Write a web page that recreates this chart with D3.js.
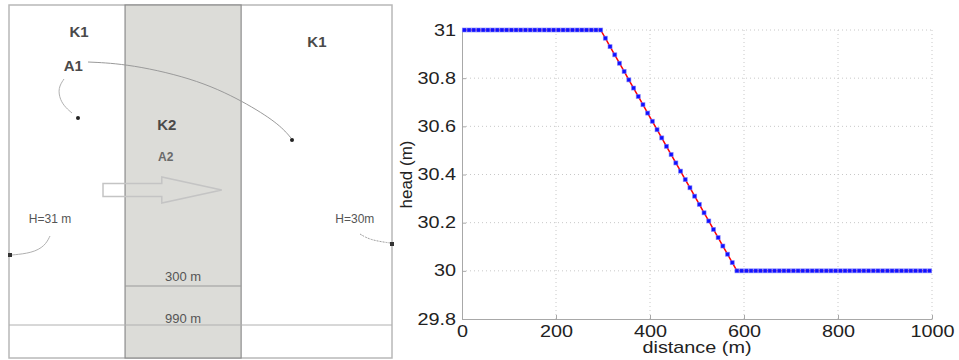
<!DOCTYPE html>
<html><head><meta charset="utf-8">
<script src="https://cdn.jsdelivr.net/npm/d3@7"></script>
<style>html,body{margin:0;padding:0;background:#fff;}svg{display:block;}</style>
</head><body>
<script>
// ---------- data ----------
const distance = [5,15,25,35,45,55,65,75,85,95,105,115,125,135,145,155,165,175,185,195,
205,215,225,235,245,255,265,275,285,295,305,315,325,335,345,355,365,375,385,395,
405,415,425,435,445,455,465,475,485,495,505,515,525,535,545,555,565,575,585,595,
605,615,625,635,645,655,665,675,685,695,705,715,725,735,745,755,765,775,785,795,
805,815,825,835,845,855,865,875,885,895,905,915,925,935,945,955,965,975,985,995];
const head = [31,31,31,31,31,31,31,31,31,31,31,31,31,31,31,31,31,31,31,31,
31,31,31,31,31,31,31,31,31,31,30.966,30.931,30.897,30.862,30.828,30.793,30.759,30.724,30.690,30.655,
30.621,30.586,30.552,30.517,30.483,30.448,30.414,30.379,30.345,30.310,30.276,30.241,30.207,30.172,30.138,30.103,30.069,30.034,30,30,
30,30,30,30,30,30,30,30,30,30,30,30,30,30,30,30,30,30,30,30,
30,30,30,30,30,30,30,30,30,30,30,30,30,30,30,30,30,30,30,30];
const xTicks = [0,200,400,600,800,1000];
const yTicks = [29.8,30,30.2,30.4,30.6,30.8,31];
const yTickLabels = ["29.8","30","30.2","30.4","30.6","30.8","31"];
const xTitle = "distance (m)";
const yTitle = "head (m)";
// schematic
const zoneBounds = [0,300,600,990];
const zoneLabels = [{t:"K1",m:181,y:32,s:15},{t:"A1",m:166,y:66,s:15},{t:"K1",m:796,y:42,s:15},
  {t:"K2",m:408,y:125,s:15},{t:"A2",m:405,y:157,s:12}];
const bcLabels = [{t:"H=31 m",m:106,y:219},{t:"H=30m",m:894,y:219}];
const dimLabels = [{t:"300 m",y:276},{t:"990 m",y:318}];

const W=959,H=360;
const svg=d3.select("body").append("svg").attr("width",W).attr("height",H);
svg.append("rect").attr("width",W).attr("height",H).attr("fill","#fff");

// ---------- left schematic ----------
const sx=d3.scaleLinear().domain([0,990]).range([9,392]);
const top0=5,bot0=358;
const L=svg.append("g");
L.append("rect").attr("x",sx(0)).attr("y",top0).attr("width",sx(990)-sx(0)).attr("height",bot0-top0)
 .attr("fill","#fff").attr("stroke","#b8b8b8").attr("stroke-width",1.5);
L.append("rect").attr("x",sx(zoneBounds[1])).attr("y",top0).attr("width",sx(zoneBounds[2])-sx(zoneBounds[1])).attr("height",bot0-top0)
 .attr("fill","#dcdcd8").attr("stroke","#8c8c8c").attr("stroke-width",1.2);
L.append("line").attr("x1",sx(0)).attr("x2",sx(990)).attr("y1",325).attr("y2",325).attr("stroke","#b0b0b0").attr("stroke-width",1);
L.append("line").attr("x1",sx(300)).attr("x2",sx(600)).attr("y1",286).attr("y2",286).attr("stroke","#9a9a9a").attr("stroke-width",1);
// arrow
const ax0=sx(243), ax1=sx(395), ax2=sx(550), ay=190;
L.append("path").attr("d",`M${ax0},${ay-6.5}L${ax1},${ay-6.5}L${ax1},${ay-13}L${ax2},${ay}L${ax1},${ay+13}L${ax1},${ay+6.5}L${ax0},${ay+6.5}Z`)
 .attr("fill","none").attr("stroke","#c4c4c4").attr("stroke-width",1.5);
// leader curves
const lc=d3.line().curve(d3.curveBasis);
L.append("path").attr("d",lc([[88,62],[130,64],[200,80],[250,105],[280,125],[291,138]])).attr("fill","none").attr("stroke","#9a9a9a").attr("stroke-width",1);
L.append("path").attr("d",lc([[64,79],[58,88],[60,100],[66,108],[72,113]])).attr("fill","none").attr("stroke","#b0b0b0").attr("stroke-width",1);
L.append("path").attr("d",lc([[50,236],[45,246],[32,253],[12,255]])).attr("fill","none").attr("stroke","#b0b0b0").attr("stroke-width",1);
L.append("path").attr("d",lc([[360,234],[370,240],[390,243]])).attr("fill","none").attr("stroke","#a0a0a0").attr("stroke-width",1).attr("stroke-dasharray","2,1");
// dots
L.append("circle").attr("cx",78).attr("cy",118).attr("r",2).attr("fill","#222");
L.append("circle").attr("cx",292).attr("cy",140).attr("r",2).attr("fill","#222");
L.append("rect").attr("x",8).attr("y",253).attr("width",4).attr("height",4).attr("fill","#333");
L.append("rect").attr("x",390).attr("y",242).attr("width",4).attr("height",4).attr("fill","#333");
// texts
L.selectAll("text.z").data(zoneLabels).join("text").attr("class","z")
 .attr("x",d=>sx(d.m)).attr("y",d=>d.y).attr("dy","0.35em").attr("text-anchor","middle")
 .attr("font-family","Liberation Sans, Arial, sans-serif").attr("font-size",d=>d.s).attr("font-weight","bold")
 .attr("fill",d=>d.t==="A2"?"#6a6a6a":"#4a4a4a").text(d=>d.t);
L.selectAll("text.b").data(bcLabels).join("text").attr("class","b")
 .attr("x",d=>sx(d.m)).attr("y",d=>d.y).attr("dy","0.35em").attr("text-anchor","middle")
 .attr("font-family","Liberation Sans, Arial, sans-serif").attr("font-size",12)
 .attr("fill","#555").text(d=>d.t);
L.selectAll("text.d").data(dimLabels).join("text").attr("class","d")
 .attr("x",sx(450)).attr("y",d=>d.y).attr("dy","0.35em").attr("text-anchor","middle")
 .attr("font-family","Liberation Sans, Arial, sans-serif").attr("font-size",13)
 .attr("fill","#555").text(d=>d.t);

// ---------- right chart ----------
const x=d3.scaleLinear().domain([0,1000]).range([462,932]);
const y=d3.scaleLinear().domain([29.8,31]).range([319,30]);
const R=svg.append("g");
const FS=16, SX=1.24;
// grid
R.append("g").selectAll("line").data(xTicks.slice(1)).join("line")
 .attr("x1",d=>x(d)).attr("x2",d=>x(d)).attr("y1",y(29.8)).attr("y2",y(31))
 .attr("stroke","#c8c8c8").attr("stroke-dasharray","1,3");
R.append("g").selectAll("line").data(yTicks.slice(1)).join("line")
 .attr("x1",x(0)).attr("x2",x(1000)).attr("y1",d=>y(d)).attr("y2",d=>y(d))
 .attr("stroke","#c8c8c8").attr("stroke-dasharray","1,3");
// axes
const gx=R.append("g").attr("transform",`translate(0,${y(29.8)})`)
 .call(d3.axisBottom(x).tickValues(xTicks).tickFormat(d3.format("d")).tickSizeInner(-4).tickSizeOuter(0).tickPadding(4));
const gy=R.append("g").attr("transform",`translate(${x(0)},0)`)
 .call(d3.axisLeft(y).tickValues(yTicks).tickFormat((d,i)=>yTickLabels[i]).tickSizeInner(-4).tickSizeOuter(0).tickPadding(4));
[gx,gy].forEach(g=>{g.select(".domain").attr("stroke","#a8a8a8");g.selectAll(".tick line").attr("stroke","#a8a8a8");});
gx.selectAll("text").attr("font-family","Liberation Sans, Arial, sans-serif").attr("font-size",FS).attr("fill","#222")
 .attr("y",18).attr("dy",0).attr("transform",`scale(${SX},1)`);
gy.selectAll("text").attr("font-family","Liberation Sans, Arial, sans-serif").attr("font-size",FS).attr("fill","#222")
 .attr("x",-6/SX).attr("transform",`scale(${SX},1)`);
// titles
R.append("text").attr("transform",`translate(${(x(0)+x(1000))/2},353) scale(${SX},1)`).attr("text-anchor","middle")
 .attr("font-family","Liberation Sans, Arial, sans-serif").attr("font-size",FS).attr("fill","#222").text(xTitle);
R.append("text").attr("transform",`translate(412,${y(30.4)}) rotate(-90)`).attr("text-anchor","middle")
 .attr("font-family","Liberation Sans, Arial, sans-serif").attr("font-size",17).attr("fill","#222").text(yTitle);
// line
const pts=distance.map((d,i)=>[d,head[i]]);
R.append("path").attr("d",d3.line().x(d=>x(d[0])).y(d=>y(d[1]))(pts)).attr("fill","none").attr("stroke","#ff0000").attr("stroke-width",1.5);
// markers
R.append("g").selectAll("rect").data(pts).join("rect")
 .attr("x",d=>x(d[0])-2).attr("y",d=>y(d[1])-2).attr("width",4).attr("height",4)
 .attr("fill","#1010ff").attr("stroke","#7a7aff").attr("stroke-width",0.8).attr("stroke-opacity",0.7);
</script>
</body></html>
